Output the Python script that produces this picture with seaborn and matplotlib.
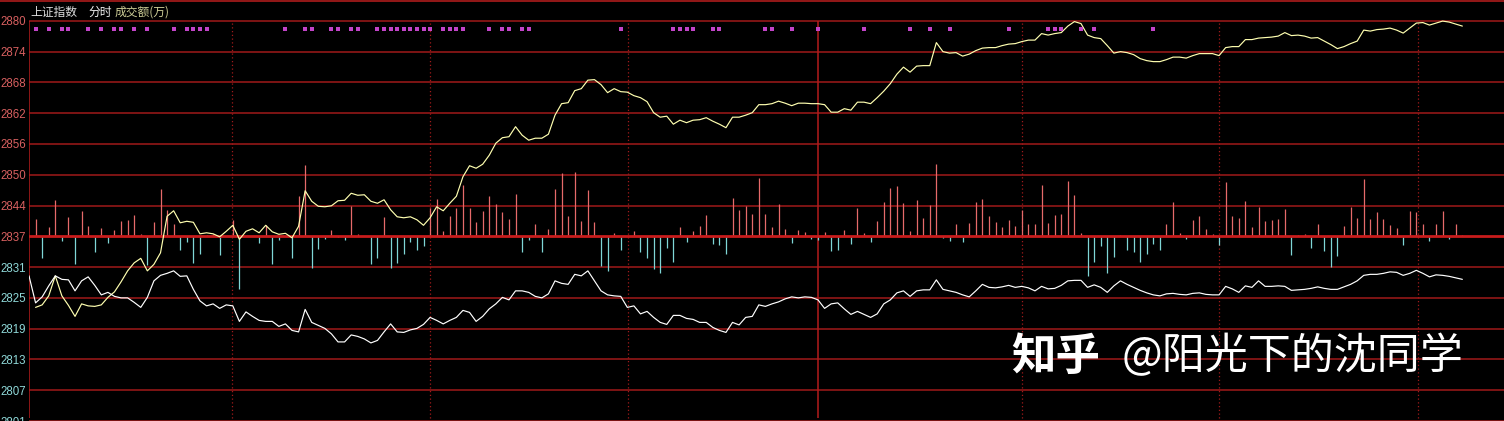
import numpy as np
import pandas as pd
import matplotlib
matplotlib.use("Agg")
import matplotlib.pyplot as plt
from matplotlib.lines import Line2D
import seaborn as sns

# ---------------- data ----------------
# minute index: 0 = 09:30 open, 120 = 11:30 / 13:00
index_minutes = list(range(1, 219))
index_line = [
    2823.2, 2823.7, 2825.5, 2829.5, 2825.5, 2823.6, 2821.4, 2823.9, 2823.5, 2823.4,
    2823.7, 2825.2, 2826.3, 2828.3, 2830.5, 2832.1, 2833.0, 2830.5, 2831.8, 2834.1,
    2841.4, 2842.5, 2840.1, 2840.4, 2840.2, 2837.9, 2838.1, 2837.9, 2837.3, 2838.4,
    2839.6, 2836.8, 2838.4, 2838.9, 2838.1, 2839.6, 2838.3, 2837.8, 2838.0, 2837.1,
    2839.4, 2846.5, 2844.4, 2843.4, 2843.3, 2843.5, 2844.5, 2844.6, 2846.0, 2845.6,
    2845.7, 2844.4, 2844.0, 2844.7, 2842.7, 2841.3, 2841.1, 2841.3, 2840.7, 2839.6,
    2841.1, 2843.3, 2842.5, 2844.0, 2845.4, 2849.3, 2851.5, 2851.0, 2851.8, 2853.6,
    2856.0, 2857.1, 2857.3, 2859.3, 2857.6, 2856.6, 2857.0, 2857.0, 2857.8, 2861.6,
    2863.9, 2864.1, 2866.5, 2866.9, 2868.6, 2868.7, 2867.7, 2866.1, 2866.9, 2866.3,
    2866.2, 2865.5, 2865.1, 2864.3, 2862.1, 2861.2, 2861.4, 2859.8, 2860.6, 2860.1,
    2860.6, 2860.7, 2861.1, 2860.4, 2859.8, 2859.1, 2861.2, 2861.2, 2861.6, 2862.1,
    2863.7, 2863.7, 2863.9, 2864.4, 2864.0, 2863.5, 2864.0, 2864.0, 2863.9, 2863.9,
    2863.7, 2862.2, 2862.2, 2862.9, 2862.6, 2864.2, 2864.2, 2863.9, 2865.1, 2866.4,
    2867.9, 2869.8, 2871.2, 2870.2, 2871.4, 2871.5, 2871.5, 2876.1, 2874.3, 2874.0,
    2874.1, 2873.4, 2873.8, 2874.5, 2875.0, 2875.1, 2875.1, 2875.5, 2875.8, 2875.9,
    2876.3, 2876.6, 2876.6, 2877.9, 2877.6, 2877.9, 2878.1, 2879.4, 2880.3, 2879.9,
    2877.6, 2877.1, 2876.9, 2875.5, 2874.0, 2874.3, 2874.1, 2873.7, 2872.9, 2872.5,
    2872.3, 2872.3, 2872.7, 2873.2, 2873.2, 2873.0, 2873.5, 2873.9, 2873.9, 2873.9,
    2873.5, 2875.1, 2875.3, 2875.3, 2876.7, 2876.7, 2877.0, 2877.1, 2877.2, 2877.4,
    2878.1, 2877.5, 2877.6, 2877.4, 2877.0, 2877.1, 2876.4, 2875.7, 2874.9, 2875.3,
    2875.9, 2876.4, 2878.6, 2878.4, 2878.7, 2878.8, 2879.0, 2878.6, 2878.0, 2879.0,
    2880.0, 2880.1, 2879.6, 2880.0, 2880.4, 2880.2, 2879.8, 2879.4,
]

overlay_minutes = list(range(0, 219))
overlay_line = [
    2829.5, 2824.1, 2825.3, 2827.5, 2829.5, 2828.8, 2828.7, 2826.5, 2828.5, 2829.3,
    2827.6, 2825.7, 2826.2, 2825.4, 2825.1, 2825.1, 2824.2, 2823.2, 2825.2, 2828.5,
    2829.6, 2830.0, 2830.5, 2829.4, 2829.5, 2826.8, 2824.5, 2823.5, 2823.9, 2823.0,
    2823.7, 2823.5, 2820.4, 2822.3, 2821.4, 2820.6, 2820.4, 2820.4, 2819.4, 2819.9,
    2818.6, 2818.3, 2822.8, 2820.2, 2819.6, 2819.0, 2817.9, 2816.3, 2816.3, 2817.7,
    2817.4, 2816.9, 2816.1, 2816.6, 2818.3, 2819.9, 2818.3, 2818.2, 2818.7, 2819.0,
    2819.8, 2821.2, 2820.6, 2819.9, 2820.6, 2821.2, 2822.6, 2822.2, 2820.4, 2821.4,
    2822.9, 2823.9, 2825.2, 2824.7, 2826.5, 2826.5, 2826.2, 2825.4, 2825.1, 2825.9,
    2828.5, 2828.0, 2827.8, 2829.8, 2829.5, 2830.5, 2828.5, 2826.5, 2825.7, 2825.5,
    2825.4, 2823.2, 2823.5, 2821.9, 2822.4, 2821.2, 2820.2, 2819.8, 2821.6, 2821.6,
    2821.0, 2820.8, 2820.2, 2820.2, 2819.2, 2818.6, 2818.2, 2820.2, 2819.7, 2821.2,
    2821.4, 2823.7, 2823.4, 2823.9, 2824.3, 2824.9, 2825.3, 2825.1, 2825.3, 2825.2,
    2824.7, 2823.0, 2823.9, 2824.1, 2822.9, 2821.8, 2822.4, 2821.8, 2821.2, 2821.9,
    2823.9, 2824.7, 2826.1, 2826.5, 2825.4, 2826.5, 2826.7, 2826.7, 2828.7, 2826.8,
    2826.5, 2826.2, 2825.7, 2825.3, 2826.5, 2827.8, 2827.2, 2827.1, 2827.3, 2827.6,
    2827.2, 2827.4, 2827.1, 2826.5, 2827.4, 2826.9, 2827.0, 2827.6, 2828.5, 2828.6,
    2828.6, 2827.2, 2827.7, 2827.2, 2826.2, 2827.5, 2828.5, 2827.8, 2827.2, 2826.6,
    2826.1, 2825.7, 2825.5, 2825.9, 2826.0, 2825.8, 2825.7, 2826.0, 2826.1, 2825.8,
    2825.7, 2825.7, 2827.4, 2826.9, 2826.2, 2827.5, 2827.2, 2828.5, 2827.4, 2827.4,
    2827.5, 2827.4, 2826.6, 2826.7, 2826.8, 2827.0, 2827.3, 2827.0, 2826.8, 2826.8,
    2827.3, 2827.8, 2828.5, 2829.6, 2829.8, 2829.8, 2830.0, 2830.3, 2830.2, 2829.6,
    2830.0, 2830.6, 2830.0, 2829.3, 2829.7, 2829.6, 2829.4, 2829.1, 2828.8,
]

bar_minutes = list(range(1, 219))
net_amount = [
    52, -67, 28, 110, -13, 58, -85, 77, 32, -48,
    25, -20, 20, 45, 50, 65, 7, -87, 43, 143,
    80, 38, -40, -17, -80, -52, 3, 6, -58, 0,
    48, -158, 0, 0, -20, 35, -85, -10, 0, -65,
    122, 215, -97, -37, -7, 20, -3, -10, 93, 8,
    0, -85, -65, 58, -97, -80, -55, -16, -40, -28,
    85, 112, 15, 62, 85, 155, 85, 43, 78, 122,
    97, 73, 52, 127, -47, -12, 38, -47, 22, 143,
    190, 62, 194, 46, 139, 43, -90, -105, 10, -42,
    0, 15, -48, -65, -100, -110, -35, -78, 28, -18,
    15, 32, 65, -22, -27, -55, 115, 80, 92, 68,
    175, 67, 28, 98, 22, -20, 18, 13, -8, -10,
    13, -43, -40, 19, -22, 85, 10, -16, 47, 103,
    145, 152, 100, 17, 109, 56, 95, 218, -4, -14,
    38, -16, 40, 103, 112, 60, 44, 28, 50, 32,
    80, 38, 38, 155, 40, 65, 68, 167, 125, 10,
    -120, -78, -28, -110, -62, 4, -40, -46, -78, -55,
    -23, -40, 38, 103, 10, -7, 50, 62, 23, 8,
    -25, 163, 62, 56, 107, 27, 88, 47, 49, 53,
    84, -58, 5, 8, -35, 38, -43, -93, -60, 32,
    89, 56, 173, 53, 72, 53, 35, 26, -27, 77,
    72, 38, -13, 38, 77, -7, 36, 5,
]

signal_minutes = [1, 3, 5, 6, 9, 11, 13, 14, 16, 18, 22, 24, 25, 26, 27, 39, 42, 43,
                  46, 47, 49, 50, 53, 54, 55, 56, 57, 58, 59, 60, 61, 63, 64, 65, 66,
                  70, 72, 73, 75, 76, 90, 98, 99, 100, 101, 104, 105, 112, 113, 116,
                  120, 127, 134, 137, 140, 149, 155, 156, 157, 160, 162, 171]

tick_values = [2880.45, 2874.3, 2868.15, 2862.0, 2855.85, 2849.7, 2843.55, 2837.4,
               2831.25, 2825.1, 2818.95, 2812.8, 2806.65, 2800.5]
tick_labels = ["2880", "2874", "2868", "2862", "2856", "2850", "2844", "2837",
               "2831", "2825", "2819", "2813", "2807", "2801"]
base_price = 2837.4
dotted_minutes = [30.9, 61.0, 91.1, 151.1, 181.0, 211.2]
midday_minute = 120

# ---------------- layout / style ----------------
W, H = 1504, 421
PX_PER_PRICE = 31.03 / 6.15
AXIS_X = 29
PX_PER_MIN = 6.575
AMOUNT_TO_PRICE = 1.0 / (3 * PX_PER_PRICE)
TOP_GRID_Y = 21

y_top = tick_values[0] + TOP_GRID_Y / PX_PER_PRICE
y_bot = y_top - H / PX_PER_PRICE
x_max = (W - AXIS_X) / PX_PER_MIN
signal_y = tick_values[0] - 8 / PX_PER_PRICE

GRID = "#a01a1a"
BASE = "#c81c1c"
RED_BAR = "#e66a6a"
CYAN_BAR = "#7fd6d6"
YELLOW = "#ffffb0"
RED_LABEL = "#d86060"
CYAN_LABEL = "#8fd8d8"

sns.set_theme(style="dark", rc={"axes.facecolor": "black", "figure.facecolor": "black"})
plt.rcParams["font.family"] = ["Noto Sans CJK SC", "DejaVu Sans"]

fig = plt.figure(figsize=(W / 100, H / 100), dpi=100)
ax = fig.add_axes([AXIS_X / W, 0, (W - AXIS_X) / W, 1])
ax.set_facecolor("black")
ax.set_xlim(0, x_max)
ax.set_ylim(y_bot, y_top)
for s in ax.spines.values():
    s.set_visible(False)
ax.grid(False)

# horizontal grid
grid_others = [v for v in tick_values if v != base_price]
ax.hlines(grid_others, 0, x_max, colors=GRID, linewidth=1.1, zorder=1)

# vertical lines
ax.vlines(dotted_minutes, y_bot, tick_values[0], colors=GRID, linewidth=0.9,
          linestyles=(0, (1, 2)), zorder=1)
ax.vlines([0, midday_minute], y_bot, tick_values[0], colors=["#b41c1c", "#b41c1c"],
          linewidth=1.1, zorder=1)

# bars
amt = np.array(net_amount, dtype=float)
bm = np.array(bar_minutes, dtype=float)
tops = base_price + amt * AMOUNT_TO_PRICE
pos = amt > 0
neg = amt < 0
ax.vlines(bm[pos], base_price, tops[pos], colors=RED_BAR, linewidth=0.9, zorder=2)
ax.vlines(bm[neg], base_price, tops[neg], colors=CYAN_BAR, linewidth=0.9, zorder=2)
ax.axhline(base_price, color=BASE, linewidth=2.0, zorder=2.5)

# lines
df_idx = pd.DataFrame({"minute": index_minutes, "price": index_line})
df_ovl = pd.DataFrame({"minute": overlay_minutes, "price": overlay_line})
sns.lineplot(data=df_idx, x="minute", y="price", ax=ax, color=YELLOW, linewidth=0.85,
             legend=False, zorder=3)
sns.lineplot(data=df_ovl, x="minute", y="price", ax=ax, color="white", linewidth=0.85,
             legend=False, zorder=3)

# signal dots
df_sig = pd.DataFrame({"minute": signal_minutes, "y": [signal_y] * len(signal_minutes)})
sns.scatterplot(data=df_sig, x="minute", y="y", ax=ax, marker="s", s=9,
                color="#c244c8", linewidth=0, zorder=4, legend=False)

ax.set_xlabel("")
ax.set_ylabel("")
ax.set_xticks([])
ax.set_yticks(tick_values)
ax.set_yticklabels(tick_labels, fontfamily="Liberation Sans", fontsize=8.3)
ax.tick_params(axis="y", length=0, pad=2)
for lbl, v in zip(ax.get_yticklabels(), tick_values):
    lbl.set_color(RED_LABEL if v >= base_price - 0.01 else CYAN_LABEL)

# top border line
fig.add_artist(Line2D([0, 1], [1 - 1.0 / H, 1 - 1.0 / H], color=GRID, linewidth=1.3,
                      transform=fig.transFigure))

# header texts
ty = 1 - 12 / H
fig.text(30 / W, ty, "上证指数", color="#dedede", fontsize=8.5, va="center", ha="left")
fig.text(88 / W, ty, "分时", color="#f2f2f2", fontsize=8.5, va="center", ha="left")
fig.text(115 / W, ty, "成交额(万)", color="#cfcf98", fontsize=8.5, va="center", ha="left")

# watermark
wy = 1 - 357 / H
fig.text(1011 / W, wy, "知乎", color="white", fontsize=32, fontweight="heavy",
         va="center", ha="left")
fig.text(1122 / W, wy, "@阳光下的沈同学", color="white", fontsize=31,
         va="center", ha="left")

fig.savefig("out.png", dpi=100, facecolor="black")
